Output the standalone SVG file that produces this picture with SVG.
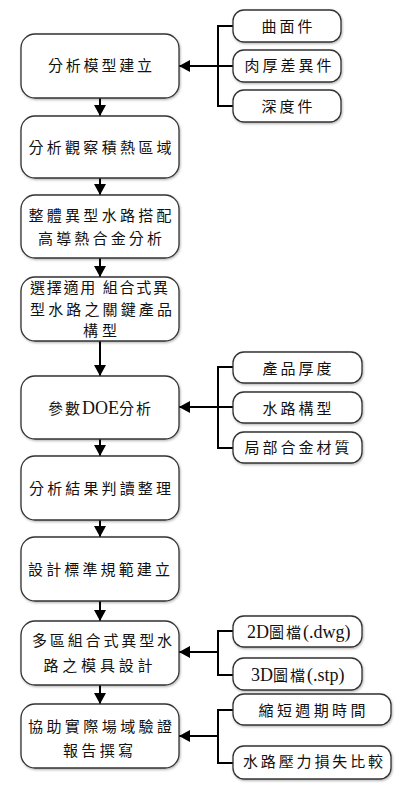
<svg xmlns="http://www.w3.org/2000/svg" width="407" height="788" viewBox="0 0 407 788">
<style>
.box{fill:#fff;stroke:#333;stroke-width:1.3;filter:url(#sh)}
.t{font-family:"Liberation Serif","Noto Sans CJK TC",serif;font-size:15px;fill:#111;text-anchor:middle;dominant-baseline:central}
.m{font-family:"Liberation Serif","Noto Sans CJK TC",serif;font-size:15px;fill:#111;text-anchor:start}
.cj{letter-spacing:2px}
.la{font-size:18px;letter-spacing:0}
.c{fill:none;stroke:#000;stroke-width:2}
</style>
<defs>
<filter id="sh" x="-10%" y="-10%" width="120%" height="130%">
<feDropShadow dx="0.8" dy="1.2" stdDeviation="0.8" flood-color="#000" flood-opacity="0.3"/>
</filter>
<marker id="ah" markerUnits="userSpaceOnUse" markerWidth="11" markerHeight="12" refX="11" refY="6" orient="auto">
<path d="M0,0 L11,6 L0,12 z" fill="#000"/>
</marker>
</defs>

<g id="connectors">
<path class="c" d="M100,98 V116" marker-end="url(#ah)"/>
<path class="c" d="M100,178 V195" marker-end="url(#ah)"/>
<path class="c" d="M100,258 V277" marker-end="url(#ah)"/>
<path class="c" d="M100,341 V376" marker-end="url(#ah)"/>
<path class="c" d="M100,439 V456" marker-end="url(#ah)"/>
<path class="c" d="M100,520 V537" marker-end="url(#ah)"/>
<path class="c" d="M100,601 V621" marker-end="url(#ah)"/>
<path class="c" d="M100,685 V704" marker-end="url(#ah)"/>

<path class="c" d="M233,26 H218 V106 H233 M218,66 H233"/>
<path class="c" d="M218,66 H179" marker-end="url(#ah)"/>

<path class="c" d="M233,367 H218 V448 H233 M218,407 H233"/>
<path class="c" d="M218,407 H179" marker-end="url(#ah)"/>

<path class="c" d="M233,631 H218 V675 H233"/>
<path class="c" d="M218,652 H179" marker-end="url(#ah)"/>

<path class="c" d="M233,710 H218 V763 H233"/>
<path class="c" d="M218,736 H179" marker-end="url(#ah)"/>
</g>

<g id="n1"><rect class="box" x="21" y="34" width="158" height="64" rx="14"/><text class="t" x="100" y="66" textLength="104" lengthAdjust="spacing">分析模型建立</text></g>
<g id="n2"><rect class="box" x="21" y="116" width="158" height="62" rx="14"/><text class="t" x="100" y="148" textLength="143" lengthAdjust="spacing">分析觀察積熱區域</text></g>
<g id="n3"><rect class="box" x="21" y="195" width="158" height="63" rx="14"/><text class="t" x="100" y="216" textLength="143" lengthAdjust="spacing">整體異型水路搭配</text><text class="t" x="100" y="239" textLength="124" lengthAdjust="spacing">高導熱合金分析</text></g>
<g id="n4"><rect class="box" x="21" y="277" width="158" height="64" rx="14"/><text class="t" x="99" y="288" textLength="138" lengthAdjust="spacing">選擇適用 組合式異</text><text class="t" x="101" y="310" textLength="142" lengthAdjust="spacing">型水路之關鍵產品</text><text class="t" x="100" y="331" textLength="34" lengthAdjust="spacing">構型</text></g>
<g id="n5"><rect class="box" x="21" y="376" width="158" height="63" rx="14"/><text class="m" x="48" y="413.5"><tspan class="cj">參數</tspan><tspan class="la">DOE</tspan><tspan class="cj">分析</tspan></text></g>
<g id="n6"><rect class="box" x="21" y="456" width="158" height="64" rx="14"/><text class="t" x="100" y="489" textLength="142" lengthAdjust="spacing">分析結果判讀整理</text></g>
<g id="n7"><rect class="box" x="21" y="537" width="158" height="64" rx="14"/><text class="t" x="99" y="570" textLength="142" lengthAdjust="spacing">設計標準規範建立</text></g>
<g id="n8"><rect class="box" x="21" y="621" width="158" height="64" rx="14"/><text class="t" x="102" y="641" textLength="140" lengthAdjust="spacing">多區組合式異型水</text><text class="t" x="98" y="666" textLength="109" lengthAdjust="spacing">路之模具設計</text></g>
<g id="n9"><rect class="box" x="21" y="704" width="158" height="64" rx="14"/><text class="t" x="100" y="727" textLength="144" lengthAdjust="spacing">協助實際場域驗證</text><text class="t" x="98" y="751" textLength="70" lengthAdjust="spacing">報告撰寫</text></g>

<g id="r1"><rect class="box" x="233" y="10" width="108" height="32" rx="11"/><text class="t" x="287" y="27" textLength="51" lengthAdjust="spacing">曲面件</text></g>
<g id="r2"><rect class="box" x="233" y="50" width="108" height="32" rx="11"/><text class="t" x="288" y="66" textLength="87" lengthAdjust="spacing">肉厚差異件</text></g>
<g id="r3"><rect class="box" x="233" y="90" width="108" height="32" rx="11"/><text class="t" x="287" y="107" textLength="51" lengthAdjust="spacing">深度件</text></g>
<g id="r4"><rect class="box" x="233" y="352" width="129" height="31" rx="11"/><text class="t" x="297" y="369" textLength="69" lengthAdjust="spacing">產品厚度</text></g>
<g id="r5"><rect class="box" x="233" y="392" width="129" height="31" rx="11"/><text class="t" x="297" y="409" textLength="69" lengthAdjust="spacing">水路構型</text></g>
<g id="r6"><rect class="box" x="233" y="432" width="129" height="31" rx="11"/><text class="t" x="297" y="448" textLength="105" lengthAdjust="spacing">局部合金材質</text></g>
<g id="r7"><rect class="box" x="233" y="616" width="129" height="31" rx="11"/><text class="m" x="247" y="637.5"><tspan class="la">2D</tspan><tspan class="cj">圖檔</tspan><tspan class="la">(.dwg)</tspan></text></g>
<g id="r8"><rect class="box" x="233" y="658" width="129" height="32" rx="11"/><text class="m" x="251" y="680.5"><tspan class="la">3D</tspan><tspan class="cj">圖檔</tspan><tspan class="la">(.stp)</tspan></text></g>
<g id="r9"><rect class="box" x="233" y="694" width="158" height="31" rx="11"/><text class="t" x="312" y="711" textLength="107" lengthAdjust="spacing">縮短週期時間</text></g>
<g id="r10"><rect class="box" x="233" y="746" width="158" height="33" rx="11"/><text class="t" x="313" y="762" textLength="140" lengthAdjust="spacing">水路壓力損失比較</text></g>
</svg>
